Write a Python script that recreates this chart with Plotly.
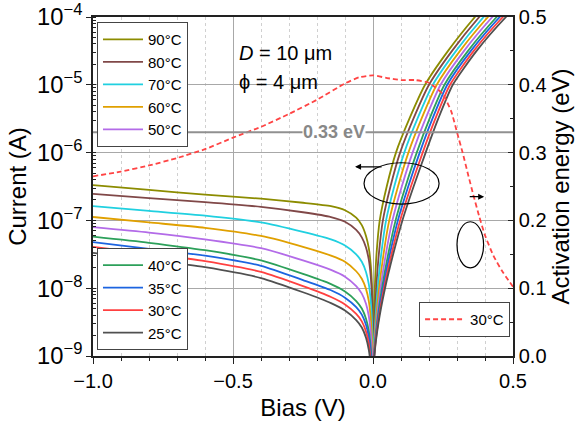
import plotly.graph_objects as go

# ---------------- data ----------------
temps = ["90°C", "80°C", "70°C", "60°C", "50°C", "40°C", "35°C", "30°C", "25°C"]
colors = ["#8c8c00", "#804848", "#20d0e0", "#e0a000", "#b36be8",
          "#2ca05a", "#1c64e0", "#ff4040", "#505050"]

# reverse branch: common bias grid, log10(current / A) per curve
rev_bias = [-1.0, -0.8, -0.6, -0.4, -0.25, -0.15, -0.1, -0.06, -0.04, -0.025,
            -0.015, -0.008, -0.004, -0.0015, -0.0004, 0.0]
logI_rev_90 = [-6.48, -6.55, -6.62, -6.68, -6.74, -6.79, -6.85, -6.96, -7.07, -7.23, -7.41, -7.66, -7.94, -8.36, -8.93, -11.0]
logI_rev_80 = [-6.61, -6.67, -6.73, -6.80, -6.88, -6.95, -7.02, -7.14, -7.25, -7.40, -7.58, -7.83, -8.11, -8.53, -9.10, -11.0]
logI_rev_70 = [-6.79, -6.86, -6.93, -7.03, -7.17, -7.28, -7.37, -7.50, -7.61, -7.76, -7.94, -8.19, -8.47, -8.89, -9.46, -11.0]
logI_rev_60 = [-6.95, -7.03, -7.11, -7.23, -7.39, -7.52, -7.61, -7.75, -7.86, -8.01, -8.19, -8.44, -8.72, -9.14, -9.71, -11.0]
logI_rev_50 = [-7.10, -7.18, -7.28, -7.41, -7.59, -7.73, -7.83, -7.97, -8.08, -8.23, -8.41, -8.66, -8.94, -9.36, -9.93, -11.0]
logI_rev_40 = [-7.24, -7.33, -7.44, -7.59, -7.79, -7.94, -8.05, -8.19, -8.30, -8.45, -8.63, -8.88, -9.16, -9.58, -10.15, -11.0]
logI_rev_35 = [-7.32, -7.42, -7.52, -7.67, -7.88, -8.03, -8.14, -8.28, -8.39, -8.54, -8.72, -8.97, -9.25, -9.67, -10.24, -11.0]
logI_rev_30 = [-7.39, -7.49, -7.60, -7.76, -7.97, -8.13, -8.24, -8.38, -8.49, -8.64, -8.82, -9.07, -9.35, -9.77, -10.34, -11.0]
logI_rev_25 = [-7.48, -7.58, -7.69, -7.85, -8.06, -8.22, -8.33, -8.47, -8.58, -8.73, -8.91, -9.16, -9.44, -9.86, -10.43, -11.0]

# forward branch: common current levels (log10 A), bias per curve
logI_fwd = [-9.0, -8.5, -8.0, -7.5, -7.0, -6.5, -6.0, -5.5, -5.0, -4.5, -4.0, -3.7]
bias_fwd_90 = [0.0012, 0.003, 0.0065, 0.0125, 0.024, 0.049, 0.082, 0.130, 0.186, 0.268, 0.364, 0.430]
bias_fwd_80 = [0.0017, 0.0054, 0.0116, 0.0208, 0.0353, 0.0624, 0.0968, 0.1444, 0.200, 0.2823, 0.3795, 0.4468]
bias_fwd_70 = [0.0023, 0.0078, 0.0167, 0.0292, 0.0467, 0.0759, 0.1117, 0.1588, 0.2137, 0.2966, 0.3951, 0.4636]
bias_fwd_60 = [0.0028, 0.0101, 0.0218, 0.0375, 0.058, 0.0893, 0.1265, 0.1733, 0.2276, 0.3108, 0.4106, 0.4804]
bias_fwd_50 = [0.0033, 0.0125, 0.0269, 0.0458, 0.0694, 0.1028, 0.1414, 0.1877, 0.2414, 0.3251, 0.4262, 0.4972]
bias_fwd_40 = [0.0039, 0.0149, 0.0321, 0.0542, 0.0807, 0.1162, 0.1562, 0.2021, 0.2553, 0.3394, 0.4417, 0.514]
bias_fwd_35 = [0.0042, 0.0166, 0.0357, 0.0601, 0.0888, 0.1258, 0.1668, 0.2124, 0.2652, 0.3496, 0.4528, 0.526]
bias_fwd_30 = [0.0046, 0.0183, 0.0394, 0.0661, 0.0969, 0.1354, 0.1774, 0.2227, 0.2751, 0.3598, 0.4639, 0.538]
bias_fwd_25 = [0.005, 0.020, 0.043, 0.072, 0.105, 0.145, 0.188, 0.233, 0.285, 0.370, 0.475, 0.550]

# activation energy at 30°C (right axis)
ea_bias = [-1.0, -0.9, -0.8, -0.7, -0.6, -0.5, -0.4, -0.3, -0.2, -0.1, -0.05, 0.0,
           0.05, 0.1, 0.15, 0.2, 0.25, 0.28, 0.3, 0.32, 0.34, 0.36, 0.38, 0.4,
           0.43, 0.46, 0.5]
ea_value = [0.265, 0.272, 0.281, 0.292, 0.305, 0.322, 0.338, 0.357, 0.378, 0.402,
            0.411, 0.414, 0.410, 0.407, 0.407, 0.403, 0.386, 0.360, 0.330, 0.300,
            0.267, 0.235, 0.205, 0.178, 0.148, 0.126, 0.102]
ea_ref = 0.33

rev_sets = [logI_rev_90, logI_rev_80, logI_rev_70, logI_rev_60, logI_rev_50,
            logI_rev_40, logI_rev_35, logI_rev_30, logI_rev_25]
fwd_sets = [bias_fwd_90, bias_fwd_80, bias_fwd_70, bias_fwd_60, bias_fwd_50,
            bias_fwd_40, bias_fwd_35, bias_fwd_30, bias_fwd_25]

FONT = "Liberation Sans, Arial, sans-serif"
fig = go.Figure()

for i, (name, col, rv, fb) in enumerate(zip(temps, colors, rev_sets, fwd_sets)):
    xs = rev_bias + fb
    ys = [10 ** v for v in rv] + [10 ** v for v in logI_fwd]
    fig.add_trace(go.Scatter(
        x=xs, y=ys, mode="lines", name=name,
        line=dict(color=col, width=1.8, shape="spline", smoothing=0.6),
        legend="legend" if i < 5 else "legend2",
    ))

fig.add_trace(go.Scatter(
    x=ea_bias, y=ea_value, mode="lines", name="30°C", yaxis="y2",
    line=dict(color="#ff4444", width=1.8, dash="5px,3px", shape="spline", smoothing=0.5),
    legend="legend3",
))

tick_left = dict(family=FONT, size=19, color="black")
tick_font = dict(family=FONT, size=20, color="black")
title_font = dict(family=FONT, size=24, color="black")
leg_font = dict(family=FONT, size=15)

fig.update_layout(
    width=581, height=434,
    margin=dict(l=93, r=68, t=17, b=78, autoexpand=False),
    paper_bgcolor="white", plot_bgcolor="white",
    font=dict(family=FONT, color="black"),
    xaxis=dict(
        range=[-1.0, 0.5], dtick=0.5, tickformat=".1f", automargin=False,
        showline=True, linecolor="#222", linewidth=1.5, mirror=True,
        ticks="outside", ticklen=6, tickcolor="#222", tickwidth=1.2,
        showgrid=True, gridcolor="#a8a8a8", gridwidth=1,
        zeroline=False, ticklabeloverflow="allow",
        minor=dict(dtick=0.1, ticks="outside", ticklen=3, tickcolor="#222",
                   showgrid=True, gridcolor="#d0d0d0", griddash="dot", gridwidth=1),
        tickfont=tick_font,
        title=dict(text="Bias (V)", font=title_font, standoff=8),
    ),
    xaxis2=dict(
        range=[-1.0, 0.5], dtick=0.5, overlaying="x", side="top", anchor="y",
        showticklabels=False, showgrid=False, zeroline=False, showline=False,
        automargin=False,
        ticks="inside", ticklen=5, tickcolor="#222",
        minor=dict(dtick=0.1, ticks="inside", ticklen=3, tickcolor="#222", showgrid=False),
    ),
    yaxis=dict(
        type="log", range=[-9, -4], dtick=1, exponentformat="power", automargin=False,
        showline=True, linecolor="#222", linewidth=1.5,
        ticks="outside", ticklen=5, tickcolor="#222",
        showgrid=True, gridcolor="#a8a8a8", gridwidth=1,
        zeroline=False, ticklabeloverflow="allow",
        minor=dict(dtick="D1", ticks="inside", ticklen=3, tickcolor="#222", showgrid=False),
        tickfont=tick_left,
        title=dict(text="Current (A)", font=title_font, standoff=4),
    ),
    yaxis2=dict(
        range=[0, 0.5], dtick=0.1, tickformat=".1f", overlaying="y", side="right",
        automargin=False, ticklabeloverflow="allow",
        showline=True, linecolor="#222", linewidth=1.5,
        ticks="inside", ticklen=5, tickcolor="#222",
        showgrid=False, zeroline=False,
        minor=dict(dtick=0.05, ticks="inside", ticklen=3, tickcolor="#222"),
        tickfont=tick_font,
        title=dict(text="Activation energy (eV)", font=title_font, standoff=4),
    ),
    legend=dict(x=0.0095, y=0.985, xanchor="left", yanchor="top",
                bgcolor="white", bordercolor="#444", borderwidth=1,
                font=leg_font, tracegroupgap=0, itemwidth=40),
    legend2=dict(x=0.0095, y=0.018, xanchor="left", yanchor="bottom",
                 bgcolor="white", bordercolor="#444", borderwidth=1,
                 font=leg_font, tracegroupgap=0, itemwidth=40),
    legend3=dict(x=0.993, y=0.056, xanchor="right", yanchor="bottom",
                 bgcolor="white", bordercolor="#444", borderwidth=1,
                 font=dict(family=FONT, size=15), itemwidth=40),
)

# 0.33 eV reference line with its label
fig.add_shape(type="line", xref="paper", x0=0, x1=1, yref="y2", y0=ea_ref, y1=ea_ref,
              line=dict(color="#909090", width=2), layer="above")
fig.add_annotation(x=-0.14, y=ea_ref, xref="x", yref="y2", text="<b>0.33 eV</b>",
                   showarrow=False, bgcolor="white", borderpad=0,
                   font=dict(family=FONT, size=18, color="#888888"))

# text annotations
fig.add_annotation(x=0.343, y=0.932, xref="paper", yref="paper", xanchor="left",
                   text="<i>D</i> = 10 μm", showarrow=False,
                   font=dict(family=FONT, size=20, color="black"))
fig.add_annotation(x=0.343, y=0.847, xref="paper", yref="paper", xanchor="left",
                   text="ϕ = 4 μm", showarrow=False,
                   font=dict(family=FONT, size=20, color="black"))

# ellipses marking which axis each data set belongs to
fig.add_shape(type="circle", xref="x", yref="y2", x0=-0.032, x1=0.236, y0=0.224, y1=0.285,
              line=dict(color="black", width=1.2))
fig.add_shape(type="circle", xref="x", yref="y2", x0=0.30, x1=0.395, y0=0.130, y1=0.198,
              line=dict(color="black", width=1.2))
fig.add_annotation(x=-0.064, y=0.279, xref="x", yref="y2", ax=0.036, ay=0.279,
                   axref="x", ayref="y2", text="", showarrow=True,
                   arrowhead=2, arrowsize=1, arrowwidth=1.2, arrowcolor="black")
fig.add_annotation(x=0.397, y=0.235, xref="x", yref="y2", ax=0.34, ay=0.235,
                   axref="x", ayref="y2", text="", showarrow=True,
                   arrowhead=2, arrowsize=1, arrowwidth=1.2, arrowcolor="black")

# remove the page's default 8 px body margin so the figure sits at (0, 0)
fig.write_html("out.html", config={"displayModeBar": False},
               post_script="document.body.style.margin='0px';")
